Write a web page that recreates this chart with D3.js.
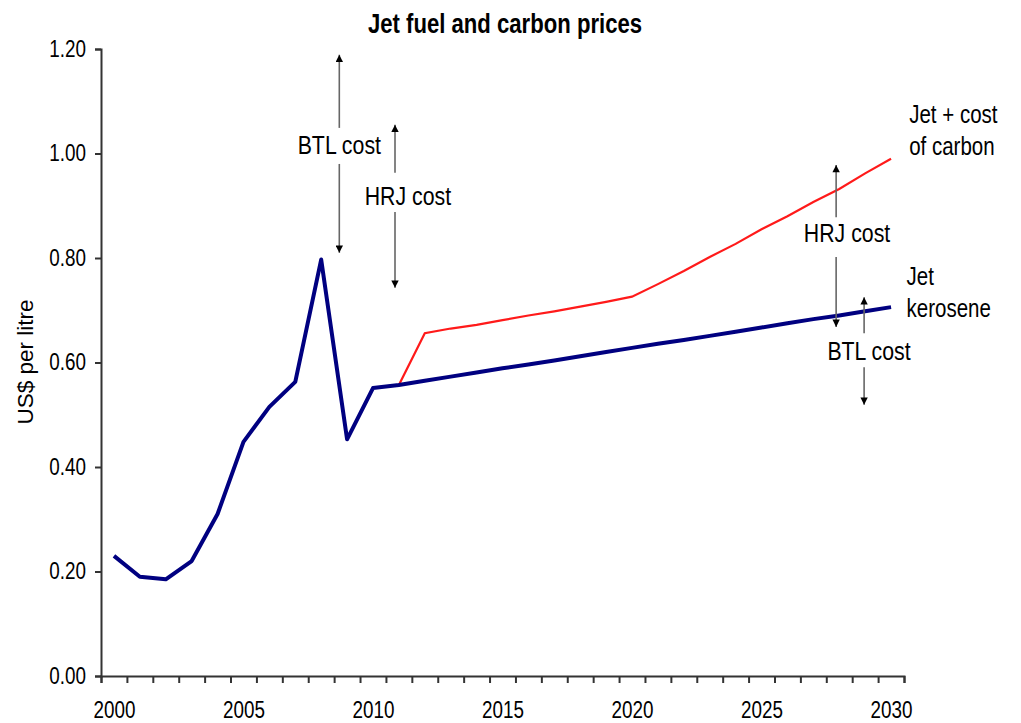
<!DOCTYPE html>
<html>
<head>
<meta charset="utf-8">
<script src="https://cdn.jsdelivr.net/npm/d3@7"></script>
<style>
  body { margin: 0; background: #fff; }
  svg text { font-family: "Liberation Sans", Arial, sans-serif; }
</style>
</head>
<body>
<svg id="chart" width="1021" height="723"></svg>
<script>
// data
const years = d3.range(2000, 2031);
const jetKerosene = [0.23, 0.19, 0.185, 0.22, 0.31, 0.448, 0.515, 0.563, 0.797, 0.453, 0.551,
  0.557, 0.565, 0.573, 0.581, 0.589, 0.596, 0.604, 0.612, 0.620, 0.628,
  0.636, 0.643, 0.651, 0.659, 0.667, 0.675, 0.683, 0.690, 0.698, 0.706];
const carbonYears = d3.range(2011, 2031);
const jetPlusCarbon = [0.557, 0.656, 0.665, 0.672, 0.681, 0.690, 0.698, 0.707, 0.716, 0.726,
  0.750, 0.775, 0.802, 0.827, 0.855, 0.880, 0.907, 0.932, 0.962, 0.990];
const yTicks = [0, 0.2, 0.4, 0.6, 0.8, 1.0, 1.2];
const xLabels = [2000, 2005, 2010, 2015, 2020, 2025, 2030];

// cost arrows: year position, top, gap top, gap bottom, bottom, label
const costArrows = [
  { label: "BTL cost", x: 2008.7, top: 1.189, gapTop: 1.049, gapBot: 0.98, bottom: 0.81, textX: 2008.7, textY: 1.000 },
  { label: "HRJ cost", x: 2010.85, top: 1.055, gapTop: 0.963, gapBot: 0.888, bottom: 0.743, textX: 2011.35, textY: 0.901 },
  { label: "HRJ cost", x: 2027.88, top: 0.978, gapTop: 0.878, gapBot: 0.802, bottom: 0.668, textX: 2028.3, textY: 0.831 },
  { label: "BTL cost", x: 2028.96, top: 0.725, gapTop: 0.656, gapBot: 0.591, bottom: 0.519, textX: 2029.15, textY: 0.605 }
];
const seriesLabels = [
  { lines: ["Jet + cost", "of carbon"], x: 2030.7, y: 1.058 },
  { lines: ["Jet", "kerosene"], x: 2030.6, y: 0.748 }
];

const svg = d3.select("#chart");
const plotLeft = 101, plotRight = 904, plotTop = 49, plotBottom = 676;
const narrow = 0.82; // no Arial Narrow here, squeeze the glyphs instead

const x = d3.scaleLinear().domain([1999.5, 2030.5]).range([plotLeft, plotRight]);
const y = d3.scaleLinear().domain([0, 1.2]).range([plotBottom, plotTop]);

// place a squeezed text at px, py
function narrowText(parent, px, py) {
  return parent.append("text")
    .attr("transform", `translate(${px},${py}) scale(${narrow},1)`)
    .attr("fill", "#000");
}

svg.append("defs").append("marker")
  .attr("id", "head")
  .attr("viewBox", "0 0 10 10")
  .attr("refX", 10).attr("refY", 5)
  .attr("markerWidth", 6).attr("markerHeight", 4.6)
  .attr("markerUnits", "strokeWidth")
  .attr("orient", "auto")
  .append("path")
  .attr("d", "M0,0 L10,5 L0,10 Z")
  .attr("fill", "#000");

// title
narrowText(svg, 505, 33)
  .attr("text-anchor", "middle")
  .attr("font-weight", "bold")
  .attr("font-size", 27)
  .text("Jet fuel and carbon prices");

// y label
svg.append("text")
  .attr("transform", "translate(33,362) rotate(-90)")
  .attr("text-anchor", "middle")
  .attr("font-size", 22.5)
  .attr("fill", "#000")
  .text("US$ per litre");

// y axis
const yAxis = svg.append("g")
  .attr("transform", `translate(${plotLeft},0)`)
  .call(d3.axisLeft(y).tickValues(yTicks).tickFormat(d3.format(".2f")).tickSize(6).tickPadding(9));
yAxis.attr("font-family", null);
yAxis.selectAll("text")
  .attr("font-size", 23).attr("fill", "#000")
  .attr("x", -15 / narrow)
  .attr("transform", `scale(${narrow},1)`);

// x axis: boundary ticks
svg.append("g")
  .attr("transform", `translate(0,${plotBottom})`)
  .call(d3.axisBottom(x).tickValues(d3.range(1999.5, 2031, 1)).tickFormat("").tickSize(7));
// x axis: labels centred in categories
const xLabAxis = svg.append("g")
  .attr("transform", `translate(0,${plotBottom})`)
  .call(d3.axisBottom(x).tickValues(xLabels).tickFormat(d3.format("d")).tickSize(0).tickPadding(26));
xLabAxis.select(".domain").remove();
xLabAxis.attr("font-family", null);
xLabAxis.selectAll("text")
  .attr("font-size", 23).attr("fill", "#000")
  .attr("transform", `scale(${narrow},1)`);

svg.selectAll(".domain").attr("stroke", "#333").attr("stroke-width", 2);
svg.selectAll(".tick line").attr("stroke", "#333").attr("stroke-width", 2);

// lines
const line = d3.line().x(d => x(d[0])).y(d => y(d[1]));

svg.append("path")
  .datum(carbonYears.map((yr, i) => [yr, jetPlusCarbon[i]]))
  .attr("d", line)
  .attr("fill", "none")
  .attr("stroke", "#ff1a1a")
  .attr("stroke-width", 2.2);

svg.append("path")
  .datum(years.map((yr, i) => [yr, jetKerosene[i]]))
  .attr("d", line)
  .attr("fill", "none")
  .attr("stroke", "#000080")
  .attr("stroke-width", 4)
  .attr("stroke-linejoin", "round");

// cost arrows
const arr = svg.append("g");
costArrows.forEach(a => {
  arr.append("line")
    .attr("x1", x(a.x)).attr("x2", x(a.x))
    .attr("y1", y(a.gapTop)).attr("y2", y(a.top))
    .attr("stroke", "#666").attr("stroke-width", 1.6)
    .attr("marker-end", "url(#head)");
  arr.append("line")
    .attr("x1", x(a.x)).attr("x2", x(a.x))
    .attr("y1", y(a.gapBot)).attr("y2", y(a.bottom))
    .attr("stroke", "#666").attr("stroke-width", 1.6)
    .attr("marker-end", "url(#head)");
  narrowText(arr, x(a.textX), y(a.textY))
    .attr("text-anchor", "middle")
    .attr("font-size", 26)
    .text(a.label);
});

// series labels
seriesLabels.forEach(s => {
  const t = narrowText(svg, x(s.x), y(s.y))
    .attr("font-size", 25);
  s.lines.forEach((ln, i) => {
    t.append("tspan").attr("x", 0).attr("dy", i ? 32 : 0).text(ln);
  });
});
</script>
</body>
</html>
